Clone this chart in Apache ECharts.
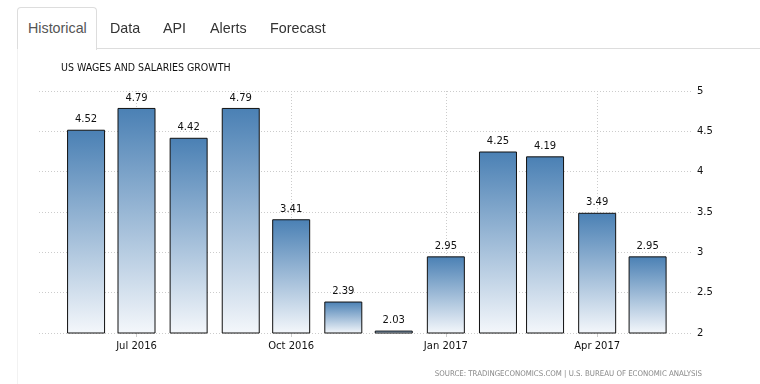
<!DOCTYPE html>
<html>
<head>
<meta charset="utf-8">
<script src="https://cdn.jsdelivr.net/npm/echarts@6/dist/echarts.min.js"></script>
<style>
  html, body { margin: 0; padding: 0; background: #fff; }
  #wrap { position: relative; width: 760px; height: 384px; overflow: hidden; font-family: "Liberation Sans", Arial, sans-serif; }
  #chart { position: absolute; left: 0; top: 0; width: 760px; height: 384px; }
  .tab { position: absolute; top: 19px; font-size: 14.3px; color: #333; line-height: 18px; white-space: nowrap; }
  #activeTab { position: absolute; left: 17px; top: 7px; width: 78px; height: 42px; border: 1px solid #ddd; border-bottom: none; border-radius: 4px 4px 0 0; background: #fff; }
  #tabLine { position: absolute; left: 96px; top: 48px; width: 664px; height: 1px; background: #ddd; }
  #panelLeft { position: absolute; left: 17px; top: 49px; width: 1px; height: 335px; background: #f2f2f2; }
</style>
</head>
<body>
<div id="wrap">
  <div id="chart"></div>
  <div id="activeTab"></div>
  <div id="tabLine"></div>
  <div id="panelLeft"></div>
  <div class="tab" style="left:28px;color:#555;">Historical</div>
  <div class="tab" style="left:110px;">Data</div>
  <div class="tab" style="left:163px;">API</div>
  <div class="tab" style="left:210px;">Alerts</div>
  <div class="tab" style="left:270px;">Forecast</div>
</div>
<script>
const dates = ['2016-06-01','2016-07-01','2016-08-01','2016-09-01','2016-10-01','2016-11-01','2016-12-01','2017-01-01','2017-02-01','2017-03-01','2017-04-01','2017-05-01'];
const values = [4.52, 4.79, 4.42, 4.79, 3.41, 2.39, 2.03, 2.95, 4.25, 4.19, 3.49, 2.95];
const tickDates = ['2016-07-01','2016-10-01','2017-01-01','2017-04-01'];
const tickLabels = ['Jul 2016','Oct 2016','Jan 2017','Apr 2017'];
const yTicks = [2, 2.5, 3, 3.5, 4, 4.5, 5];
const titleText = 'US WAGES AND SALARIES GROWTH';
const sourceText = 'SOURCE: TRADINGECONOMICS.COM | U.S. BUREAU OF ECONOMIC ANALYSIS';

// dates as day numbers (UTC) so the x axis keeps real month spacing
function toDay(s) { const p = s.split('-').map(Number); return Date.UTC(p[0], p[1] - 1, p[2]) / 86400000; }
const days = dates.map(toDay);
const tickDays = tickDates.map(toDay);

const chart = echarts.init(document.getElementById('chart'));
chart.setOption({
  animation: false,
  title: {
    text: titleText, left: 61, top: 62.5, padding: 0,
    textStyle: { fontFamily: 'DejaVu Sans Condensed', fontSize: 10.5, fontWeight: 'normal', color: '#111' }
  },
  graphic: [{
    type: 'text', right: 58, top: 370,
    style: { text: sourceText, fontFamily: 'DejaVu Sans Condensed', fontSize: 7.8, fill: '#888' }
  }],
  grid: { left: 39, right: 67, top: 91, bottom: 51 },
  xAxis: {
    type: 'value',
    min: days[0] - 28,
    max: days[days.length - 1] + 27,
    axisLine: { show: false },
    axisTick: { show: true, customValues: tickDays, length: 4, lineStyle: { color: '#ccc' } },
    axisLabel: {
      customValues: tickDays, margin: 8,
      fontFamily: 'DejaVu Sans', fontSize: 10, color: '#111',
      formatter: function (v) {
        const i = tickDays.indexOf(Math.round(v));
        return i >= 0 ? tickLabels[i] : '';
      }
    },
    splitLine: { show: true, lineStyle: { color: '#ccc', type: [1, 2] } }
  },
  yAxis: {
    type: 'value', position: 'right', min: yTicks[0], max: yTicks[yTicks.length - 1], interval: 0.5,
    axisLine: { show: false }, axisTick: { show: false },
    axisLabel: { margin: 4, fontFamily: 'DejaVu Sans', fontSize: 10, color: '#111' },
    splitLine: { show: true, lineStyle: { color: '#ccc', type: [1, 2] } }
  },
  series: [{
    type: 'bar',
    barWidth: 38,
    data: days.map((d, i) => [d, values[i]]),
    itemStyle: {
      borderColor: '#111', borderWidth: 1,
      color: new echarts.graphic.LinearGradient(0, 0, 0, 1, [
        { offset: 0, color: '#4a80b4' },
        { offset: 1, color: '#f4f7fb' }
      ])
    },
    label: {
      show: true, position: 'top', distance: 5,
      fontFamily: 'DejaVu Sans', fontSize: 10, color: '#111',
      formatter: p => p.value[1].toFixed(2)
    }
  }]
});
</script>
</body>
</html>
